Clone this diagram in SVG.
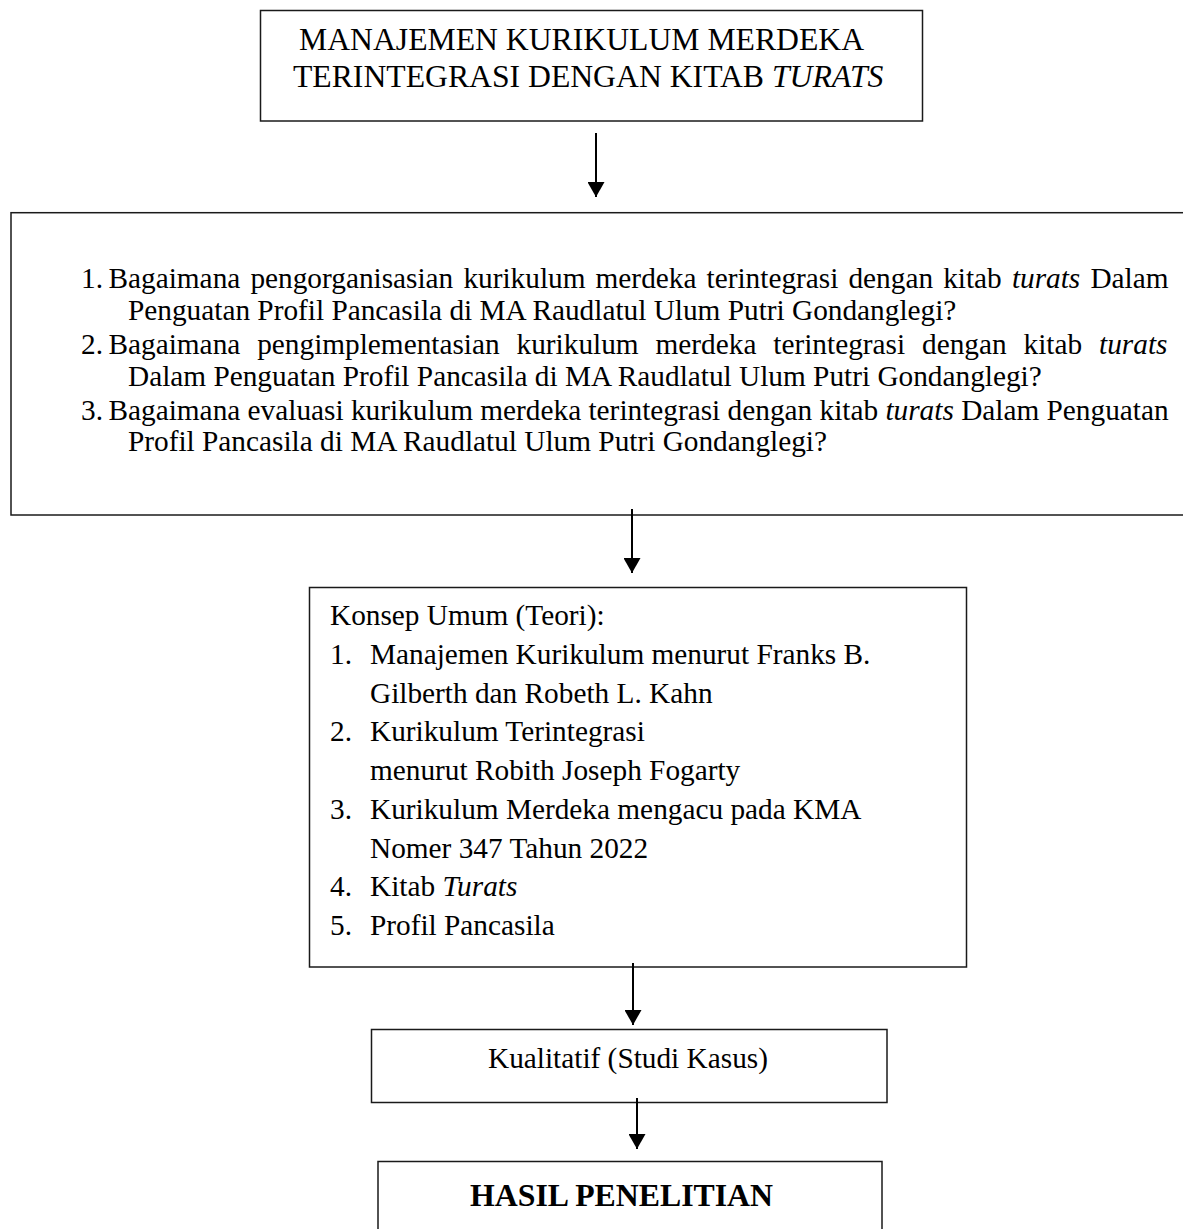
<svg xmlns="http://www.w3.org/2000/svg" width="1183" height="1229" viewBox="0 0 1183 1229">
<style>
.box{fill:#fff;stroke:#1a1a1a;stroke-width:1.5}
.t{font-family:"Liberation Serif","Times New Roman",serif;fill:#000;font-size:29.3px}
.ttl{font-size:31.7px}
.it{font-style:italic}
.b{font-weight:bold;font-size:31.8px}
.con{stroke:#000;stroke-width:2;fill:none}
</style>
<defs>
<marker id="ah" markerUnits="userSpaceOnUse" markerWidth="16" markerHeight="17" viewBox="0 0 15 17" refX="15" refY="8.5" orient="auto">
<path d="M0,0 L15,8.5 L0,17 z" fill="#000"/>
</marker>
</defs>
<rect width="1183" height="1229" fill="#fff"/>
<g id="node-title">
<rect class="box" x="260.5" y="10.5" width="662" height="110.5"/>
<text class="t ttl" x="299" y="50">MANAJEMEN KURIKULUM MERDEKA</text>
<text class="t ttl" x="293" y="87">TERINTEGRASI DENGAN KITAB <tspan class="it">TURATS</tspan></text>
</g>
<g id="node-questions">
<rect class="box" x="11" y="212.7" width="1200" height="302.3"/>
<text class="t" x="81" y="288">1.</text>
<text class="t" x="108.5" y="288" word-spacing="2.8">Bagaimana pengorganisasian kurikulum merdeka terintegrasi dengan kitab <tspan class="it">turats</tspan> Dalam</text>
<text class="t" x="128" y="320">Penguatan Profil Pancasila di MA Raudlatul Ulum Putri Gondanglegi?</text>
<text class="t" x="81" y="354">2.</text>
<text class="t" x="108.5" y="354" word-spacing="9.6">Bagaimana pengimplementasian kurikulum merdeka terintegrasi dengan kitab <tspan class="it">turats</tspan></text>
<text class="t" x="128" y="386">Dalam Penguatan Profil Pancasila di MA Raudlatul Ulum Putri Gondanglegi?</text>
<text class="t" x="81" y="420">3.</text>
<text class="t" x="108.5" y="420">Bagaimana evaluasi kurikulum merdeka terintegrasi dengan kitab <tspan class="it">turats</tspan> Dalam Penguatan</text>
<text class="t" x="128" y="451">Profil Pancasila di MA Raudlatul Ulum Putri Gondanglegi?</text>
</g>
<g id="node-teori">
<rect class="box" x="309.5" y="587.5" width="657" height="379.5"/>
<text class="t" x="330" y="625">Konsep Umum (Teori):</text>
<text class="t" x="330" y="663.75">1.</text>
<text class="t" x="370" y="663.75">Manajemen Kurikulum menurut Franks B.</text>
<text class="t" x="370" y="702.5">Gilberth dan Robeth L. Kahn</text>
<text class="t" x="330" y="741.25">2.</text>
<text class="t" x="370" y="741.25">Kurikulum Terintegrasi</text>
<text class="t" x="370" y="780">menurut Robith Joseph Fogarty</text>
<text class="t" x="330" y="818.75">3.</text>
<text class="t" x="370" y="818.75">Kurikulum Merdeka mengacu pada KMA</text>
<text class="t" x="370" y="857.5">Nomer 347 Tahun 2022</text>
<text class="t" x="330" y="896.25">4.</text>
<text class="t" x="370" y="896.25">Kitab <tspan class="it">Turats</tspan></text>
<text class="t" x="330" y="935">5.</text>
<text class="t" x="370" y="935">Profil Pancasila</text>
</g>
<g id="node-metode">
<rect class="box" x="371.5" y="1029.5" width="515.5" height="73"/>
<text class="t" x="628" y="1068" text-anchor="middle">Kualitatif (Studi Kasus)</text>
</g>
<g id="node-hasil">
<rect class="box" x="378" y="1161.5" width="504" height="100"/>
<text class="t b" x="470" y="1206">HASIL PENELITIAN</text>
</g>
<g id="connectors">
<line class="con" x1="596" y1="133" x2="596" y2="197" marker-end="url(#ah)"/>
<line class="con" x1="632" y1="509" x2="632" y2="573" marker-end="url(#ah)"/>
<line class="con" x1="633" y1="963" x2="633" y2="1025" marker-end="url(#ah)"/>
<line class="con" x1="637" y1="1098" x2="637" y2="1149" marker-end="url(#ah)"/>
</g>
</svg>
